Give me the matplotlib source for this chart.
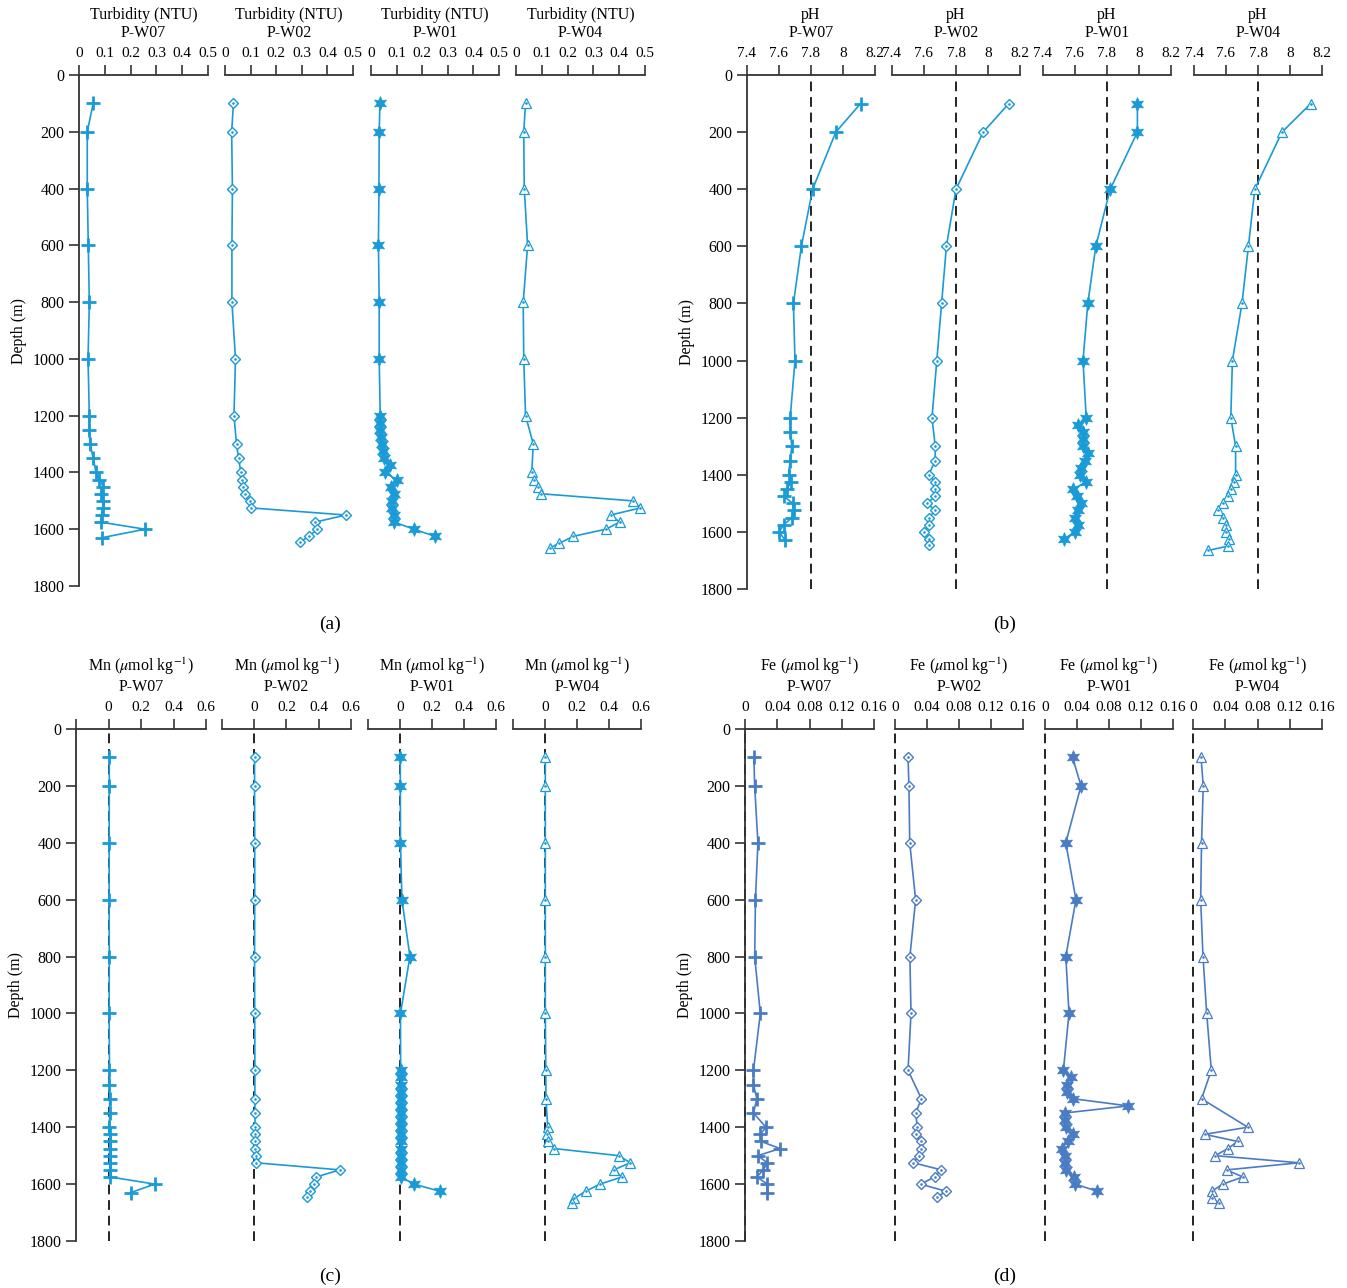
import matplotlib
matplotlib.use("Agg")
import matplotlib.pyplot as plt

# depths (m) of the samples at each station
d07 = [100, 200, 400, 600, 800, 1000, 1200, 1250, 1300, 1350, 1400, 1425, 1450, 1475, 1500, 1525, 1550, 1575, 1600, 1630]
d02 = [100, 200, 400, 600, 800, 1000, 1200, 1300, 1350, 1400, 1425, 1450, 1475, 1500, 1525, 1550, 1575, 1600, 1625, 1645]
d01 = [100, 200, 400, 600, 800, 1000, 1200, 1225, 1250, 1275, 1300, 1325, 1350, 1375, 1400, 1425, 1450, 1475, 1500, 1525,
       1550, 1575, 1600, 1625]
d04 = [100, 200, 400, 600, 800, 1000, 1200, 1300, 1400, 1425, 1450, 1475, 1500, 1525, 1550, 1575, 1600, 1625, 1650, 1665]

stations = ["P-W07", "P-W02", "P-W01", "P-W04"]

# turbidity (NTU)
turb07 = [0.055, 0.032, 0.032, 0.036, 0.040, 0.035, 0.040, 0.039, 0.043, 0.055, 0.066, 0.079, 0.094, 0.085, 0.092, 0.092,
          0.088, 0.084, 0.256, 0.088]
turb02 = [0.033, 0.026, 0.029, 0.027, 0.027, 0.041, 0.035, 0.045, 0.053, 0.062, 0.065, 0.071, 0.078, 0.097, 0.103, 0.472,
          0.352, 0.361, 0.328, 0.293]
turb01 = [0.035, 0.032, 0.031, 0.029, 0.032, 0.032, 0.036, 0.034, 0.035, 0.040, 0.042, 0.045, 0.049, 0.075, 0.053, 0.100,
          0.077, 0.091, 0.083, 0.082, 0.091, 0.091, 0.168, 0.250]
turb04 = [0.037, 0.030, 0.032, 0.045, 0.028, 0.030, 0.037, 0.067, 0.061, 0.069, 0.084, 0.096, 0.452, 0.482, 0.367, 0.402,
          0.348, 0.222, 0.167, 0.133]

# pH
ph07 = [8.11, 7.955, 7.81, 7.74, 7.69, 7.70, 7.67, 7.67, 7.68, 7.67, 7.66, 7.675, 7.65, 7.63, 7.685, 7.695, 7.68, 7.63,
        7.60, 7.64]
ph02 = [8.13, 7.97, 7.80, 7.74, 7.71, 7.68, 7.65, 7.67, 7.67, 7.63, 7.67, 7.67, 7.67, 7.62, 7.67, 7.63, 7.63, 7.60,
        7.63, 7.63]
ph01 = [7.99, 7.99, 7.82, 7.73, 7.68, 7.65, 7.67, 7.62, 7.65, 7.65, 7.65, 7.68, 7.66, 7.64, 7.63, 7.67, 7.59, 7.61,
        7.64, 7.62, 7.60, 7.62, 7.60, 7.53]
ph04 = [8.13, 7.95, 7.78, 7.74, 7.70, 7.64, 7.63, 7.66, 7.66, 7.65, 7.63, 7.61, 7.58, 7.55, 7.58, 7.60, 7.60, 7.62,
        7.61, 7.49]

# Mn (umol/kg)
mn07 = [0.005, 0.005, 0.004, 0.004, 0.005, 0.004, 0.006, 0.006, 0.007, 0.007, 0.006, 0.007, 0.008, 0.007, 0.007, 0.008,
        0.009, 0.012, 0.285, 0.136]
mn02 = [0.002, 0.002, 0.003, 0.003, 0.002, 0.003, 0.004, 0.004, 0.005, 0.005, 0.005, 0.006, 0.006, 0.009, 0.012, 0.531,
        0.383, 0.371, 0.348, 0.329]
mn01 = [0.002, 0.002, 0.003, 0.012, 0.062, 0.003, 0.004, 0.004, 0.004, 0.004, 0.004, 0.004, 0.004, 0.004, 0.004, 0.004,
        0.004, 0.004, 0.004, 0.004, 0.004, 0.005, 0.088, 0.248]
mn04 = [0.002, 0.002, 0.002, 0.002, 0.002, 0.002, 0.005, 0.006, 0.017, 0.010, 0.017, 0.057, 0.462, 0.533, 0.429, 0.481,
        0.343, 0.255, 0.183, 0.171]

# Fe (umol/kg)
fe07 = [0.011, 0.012, 0.016, 0.013, 0.012, 0.019, 0.0105, 0.0105, 0.0147, 0.0105, 0.026, 0.019, 0.020, 0.0435, 0.0157,
        0.0278, 0.0226, 0.0147, 0.0278, 0.0278]
fe02 = [0.0163, 0.0174, 0.0184, 0.0258, 0.0186, 0.020, 0.0163, 0.033, 0.0258, 0.028, 0.0258, 0.033, 0.032, 0.0295,
        0.023, 0.058, 0.0495, 0.032, 0.0637, 0.053]
fe01 = [0.0345, 0.045, 0.026, 0.0387, 0.026, 0.030, 0.023, 0.0324, 0.027, 0.027, 0.0356, 0.104, 0.0246, 0.0256, 0.0267,
        0.0345, 0.0282, 0.021, 0.0256, 0.0256, 0.026, 0.0366, 0.038, 0.065]
fe04 = [0.010, 0.0127, 0.0106, 0.0095, 0.0124, 0.017, 0.0227, 0.0106, 0.068, 0.0143, 0.0554, 0.0433, 0.0275, 0.1315,
        0.0417, 0.0618, 0.037, 0.0232, 0.0238, 0.0317]

depth_ticks = [0, 200, 400, 600, 800, 1000, 1200, 1400, 1600, 1800]

turb_ticks = [0, 0.1, 0.2, 0.3, 0.4, 0.5]
turb_labels = ["0", "0.1", "0.2", "0.3", "0.4", "0.5"]
ph_ticks = [7.4, 7.6, 7.8, 8.0, 8.2]
ph_labels = ["7.4", "7.6", "7.8", "8", "8.2"]
mn_ticks = [-0.2, 0, 0.2, 0.4, 0.6]
mn_labels = ["", "0", "0.2", "0.4", "0.6"]
fe_ticks = [0, 0.04, 0.08, 0.12, 0.16]
fe_labels = ["0", "0.04", "0.08", "0.12", "0.16"]

plt.rcParams["font.family"] = ["Liberation Serif", "DejaVu Serif"]
plt.rcParams["mathtext.fontset"] = "stix"
plt.rcParams["font.size"] = 11

W, H = 1347, 1288
fig = plt.figure(figsize=(W / 100, H / 100), dpi=100)

BLUE = "#1a9ad6"
FE_BLUE = "#4a7cc4"
AXC = "#333333"

markers = [
    dict(marker="+", ms=10, mew=2.0),
    dict(marker="D", ms=5.5, mew=1.0, mfc="white"),
    dict(marker=(6, 1, 0), ms=10, mew=0.5),
    dict(marker="^", ms=6.5, mew=0.9, mfc="white"),
]


def px_rect(x0, x1, ytop, ybot):
    return [x0 / W, 1 - ybot / H, (x1 - x0) / W, (ybot - ytop) / H]


def draw_panel(xs_px, ytop, ybot, series, depths, xlim, ticks, labels, title, color, vline=None):
    for i, (x0, x1) in enumerate(xs_px):
        ax = fig.add_axes(px_rect(x0, x1, ytop, ybot))
        ax.set_xlim(*xlim)
        ax.set_ylim(1800, 0)
        ax.xaxis.tick_top()
        ax.set_xticks(ticks)
        ax.set_xticklabels(labels)
        ax.tick_params(axis="x", direction="out", length=7, width=1.2, color=AXC, pad=4, labelsize=11)
        for s in ["right", "bottom"]:
            ax.spines[s].set_visible(False)
        ax.spines["top"].set_linewidth(1.3)
        ax.spines["top"].set_color(AXC)
        if i == 0:
            ax.spines["left"].set_linewidth(1.3)
            ax.spines["left"].set_color(AXC)
            ax.set_yticks(depth_ticks)
            ax.tick_params(axis="y", direction="out", length=7, width=1.2, color=AXC, labelsize=11.5)
            ax.set_ylabel("Depth (m)", fontsize=11.5)
        else:
            ax.spines["left"].set_visible(False)
            ax.tick_params(axis="y", left=False, labelleft=False)
        ax.patch.set_visible(False)

        if vline is not None:
            ax.axvline(vline, color="#222222", ls=(0, (5, 3)), lw=1.4, zorder=1, clip_on=False)

        mk = markers[i]
        ax.plot(series[i], depths[i], color=color, lw=1.2, mec=color, zorder=3, **mk)
        if i in (1, 3):
            # small dot in the middle of the open markers
            ax.plot(series[i], depths[i], ls="none", marker=".", ms=1.8, color=color, zorder=4)

        ax.annotate(title + "\n" + stations[i], xy=(0.5, 1), xycoords="axes fraction",
                    xytext=(0, 34), textcoords="offset pixels", ha="center", va="bottom",
                    fontsize=11.5, linespacing=1.2)


depths = [d07, d02, d01, d04]

# (a) turbidity
draw_panel([(79, 208), (225, 353), (371, 499), (516, 645)], 75, 586,
           [turb07, turb02, turb01, turb04], depths, (0, 0.5), turb_ticks, turb_labels,
           "Turbidity (NTU)", BLUE)

# (b) pH
draw_panel([(747, 875), (892, 1020), (1043, 1171), (1194, 1322)], 75, 589,
           [ph07, ph02, ph01, ph04], depths, (7.4, 8.2), ph_ticks, ph_labels,
           "pH", BLUE, vline=7.8)

# (c) Mn
draw_panel([(76, 206), (222, 351), (368, 496), (513, 641)], 729, 1241,
           [mn07, mn02, mn01, mn04], depths, (-0.2, 0.6), mn_ticks, mn_labels,
           r"Mn ($\mu$mol kg$^{-1}$)", BLUE, vline=0)

# (d) Fe
draw_panel([(745, 874), (895, 1023), (1045, 1173), (1193, 1322)], 729, 1241,
           [fe07, fe02, fe01, fe04], depths, (0, 0.16), fe_ticks, fe_labels,
           r"Fe ($\mu$mol kg$^{-1}$)", FE_BLUE, vline=0)

for lab, x, y in [("(a)", 330, 624), ("(b)", 1005, 624), ("(c)", 330, 1276), ("(d)", 1005, 1276)]:
    fig.text(x / W, 1 - y / H, lab, ha="center", va="center", fontsize=14)

fig.savefig("out.png", dpi=100)
